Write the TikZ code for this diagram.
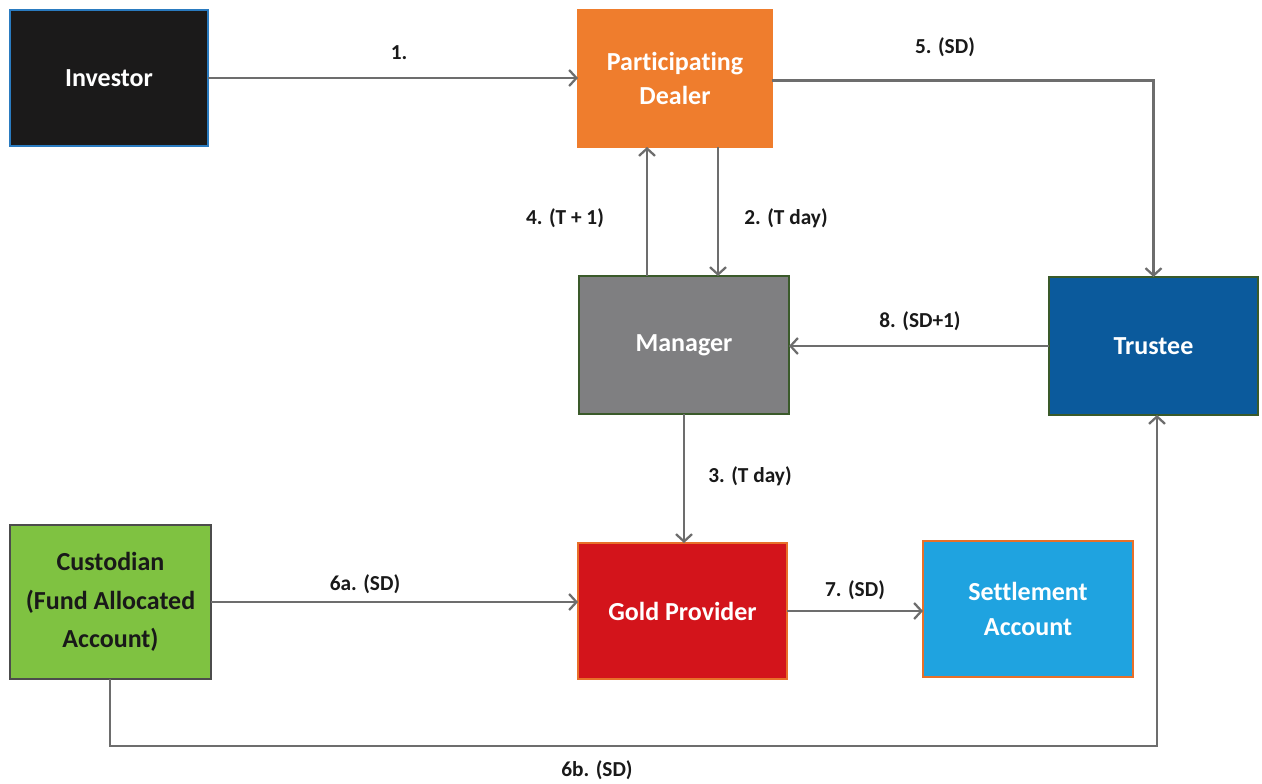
\documentclass[tikz,border=0pt]{standalone}
\usepackage{fontspec}
\setmainfont[Ligatures={NoCommon}]{Carlito}
\usetikzlibrary{arrows.meta,calc}
\definecolor{invc}{HTML}{1B1A1A}
\definecolor{invb}{HTML}{2A7BC0}
\definecolor{pdc}{HTML}{EF7D2D}
\definecolor{mgc}{HTML}{7F7F81}
\definecolor{grb}{HTML}{3A5A2A}
\definecolor{trc}{HTML}{0B5A9C}
\definecolor{cuc}{HTML}{7FC241}
\definecolor{gpc}{HTML}{D3141B}
\definecolor{stc}{HTML}{1FA3E0}
\definecolor{orb}{HTML}{E8702A}
\definecolor{arc}{HTML}{6D6D6D}
\tikzset{
  box/.style={rectangle, inner sep=0pt, outer sep=0pt, line width=1.2pt, align=center,
    font=\fontsize{19.5}{26}\selectfont\bfseries, text=white},
  lbl/.style={font=\fontsize{16}{19}\selectfont\bfseries, text=black!90, inner sep=0pt},
  arr/.style={draw=arc, line width=2pt, -{Straight Barb[length=5.5pt,width=12pt,line width=1.7pt]}},
}
\begin{document}
\begin{tikzpicture}[x=0.75pt,y=-0.75pt]
\useasboundingbox (0,0) rectangle (1262,783);
\node[box, fill=invc, draw=invb, minimum width=198*0.75pt, minimum height=136*0.75pt] (inv) at (109,78) {Investor};
\node[box, fill=pdc, draw=pdc, minimum width=194*0.75pt, minimum height=137*0.75pt] (dl) at (675,78.5) {Participating\\Dealer};
\node[box, fill=mgc, draw=grb, minimum width=210*0.75pt, minimum height=138*0.75pt] (mg) at (684,345) {Manager};
\node[box, fill=trc, draw=grb, minimum width=209*0.75pt, minimum height=138*0.75pt] (tr) at (1153.5,346) {Trustee};
\node[box, fill=cuc, draw=black!70, text=black!90, minimum width=201*0.75pt, minimum height=154*0.75pt, font=\fontsize{19.5}{29}\selectfont\bfseries] (cu) at (110.5,602) {Custodian\\(Fund Allocated\\Account)};
\node[box, fill=gpc, draw=orb, minimum width=209*0.75pt, minimum height=136*0.75pt] (gp) at (682.5,611) {Gold Provider};
\node[box, fill=stc, draw=orb, minimum width=210*0.75pt, minimum height=136*0.75pt] (st) at (1028,609) {Settlement\\Account};

\draw[arr] (inv.east) -- (inv.east -| dl.west);
\draw[arr] ($(dl.south)+(43,0)$) coordinate (a2) -- (a2 |- mg.north);
\draw[arr] ($(mg.north)+(-37,0)$) coordinate (a4) -- (a4 |- dl.south);
\draw[arr] ($(dl.east)+(0,2)$) -| (tr.north);
\draw[arr] (tr.west) -- (tr.west -| mg.east);
\draw[arr] (mg.south) -- (mg.south |- gp.north);
\draw[arr] (cu.east) -- (cu.east -| gp.west);
\draw[arr] (gp.east) -- (gp.east -| st.west);
\draw[arr] ($(cu.south)+(-0.5,0)$) -- ++(0,67) -| ($(tr.south)+(3.5,0)$);

\node[lbl] (l1) at (399,53) {1.};
\node[lbl] (l2) at (786,218) {2. (T day)};
\node[lbl] (l4) at (565,218) {4. (T + 1)};
\node[lbl] (l5) at (945,47) {5. (SD)};
\node[lbl] (l8) at (920,321) {8. (SD+1)};
\node[lbl] (l3) at (750,476) {3. (T day)};
\node[lbl] (l6a) at (365,584) {6a. (SD)};
\node[lbl] (l7) at (855,590) {7. (SD)};
\node[lbl] (l6b) at (597,770) {6b. (SD)};
\end{tikzpicture}
\end{document}
